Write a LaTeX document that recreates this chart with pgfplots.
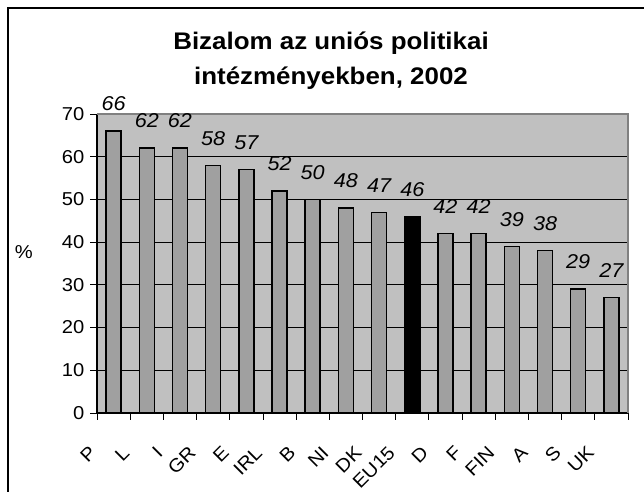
\documentclass[border=0pt]{standalone}
\usepackage{pgfplots}
\pgfplotsset{compat=1.18}
\usepackage{fontspec}
\setmainfont[FakeStretch=1.08]{Liberation Sans}
\definecolor{plotbg}{RGB}{192,192,192}
\definecolor{barfill}{RGB}{160,160,160}
\definecolor{frameg}{RGB}{128,128,128}
\begin{document}
\begin{tikzpicture}
\path[use as bounding box] (0,0) rectangle (483pt,369pt);
\fill[white] (0,0) rectangle (483pt,369pt);
\draw[line width=1.5pt] (6pt,-10pt) rectangle (500pt,363pt);
\node[anchor=base,font=\fontsize{18}{22}\selectfont\bfseries] at (248.25pt,331.5pt) {Bizalom az uniós politikai};
\node[anchor=base,font=\fontsize{18}{22}\selectfont\bfseries] at (248.25pt,305.25pt) {intézményekben, 2002};
\begin{axis}[
  at={(72.75pt,59.25pt)}, anchor=south west,
  scale only axis, width=398.25pt, height=224.25pt,
  xmin=-0.5, xmax=15.5, ymin=0, ymax=70,
  axis background/.style={fill=plotbg},
  axis x line*=bottom, axis y line*=left,
  axis line style={black, line width=0.8pt},
  ytick={0,10,...,70},
  ymajorgrids, grid style={black, line width=0.6pt},
  tick label style={font=\fontsize{14}{16}\selectfont},
  tick style={black, line width=0.6pt},
  xtick={-0.5,0.5,...,15.5},
  xticklabels={},
  extra x ticks={0,...,15},
  extra x tick labels={P,L,I,GR,E,IRL,B,NI,DK,EU15,D,F,FIN,A,S,UK},
  extra x tick style={major tick length=0pt, grid=none,
    xticklabel style={xshift=-13pt, yshift=-25pt, rotate=45, anchor=east}},
  tick align=outside, major tick length=5pt,
  yticklabel style={xshift=-1pt},
  /pgf/number format/assume math mode=true,
  ylabel={\%},
  ylabel style={at={(axis description cs:-0.138,0.538)}, rotate=-90, anchor=center, font=\fontsize{14}{16}\selectfont},
  ybar, bar width=11.25pt, bar shift=0pt,
  nodes near coords,
  every node near coord/.append style={font=\fontsize{15}{18}\selectfont\itshape, anchor=south, inner sep=0pt, yshift=14.5pt, black},
  clip=false,
]
\addplot[fill=barfill, draw=black, line width=1.1pt] coordinates {
(0,66) (1,62) (2,62) (3,58) (4,57) (5,52) (6,50) (7,48) (8,47)
(10,42) (11,42) (12,39) (13,38) (14,29) (15,27)};
\addplot[fill=black, draw=black, line width=1.1pt] coordinates {(9,46)};
\draw[frameg, line width=0.8pt] (rel axis cs:0,1) -- (rel axis cs:1,1) -- (rel axis cs:1,0);
\end{axis}
\end{tikzpicture}
\end{document}
